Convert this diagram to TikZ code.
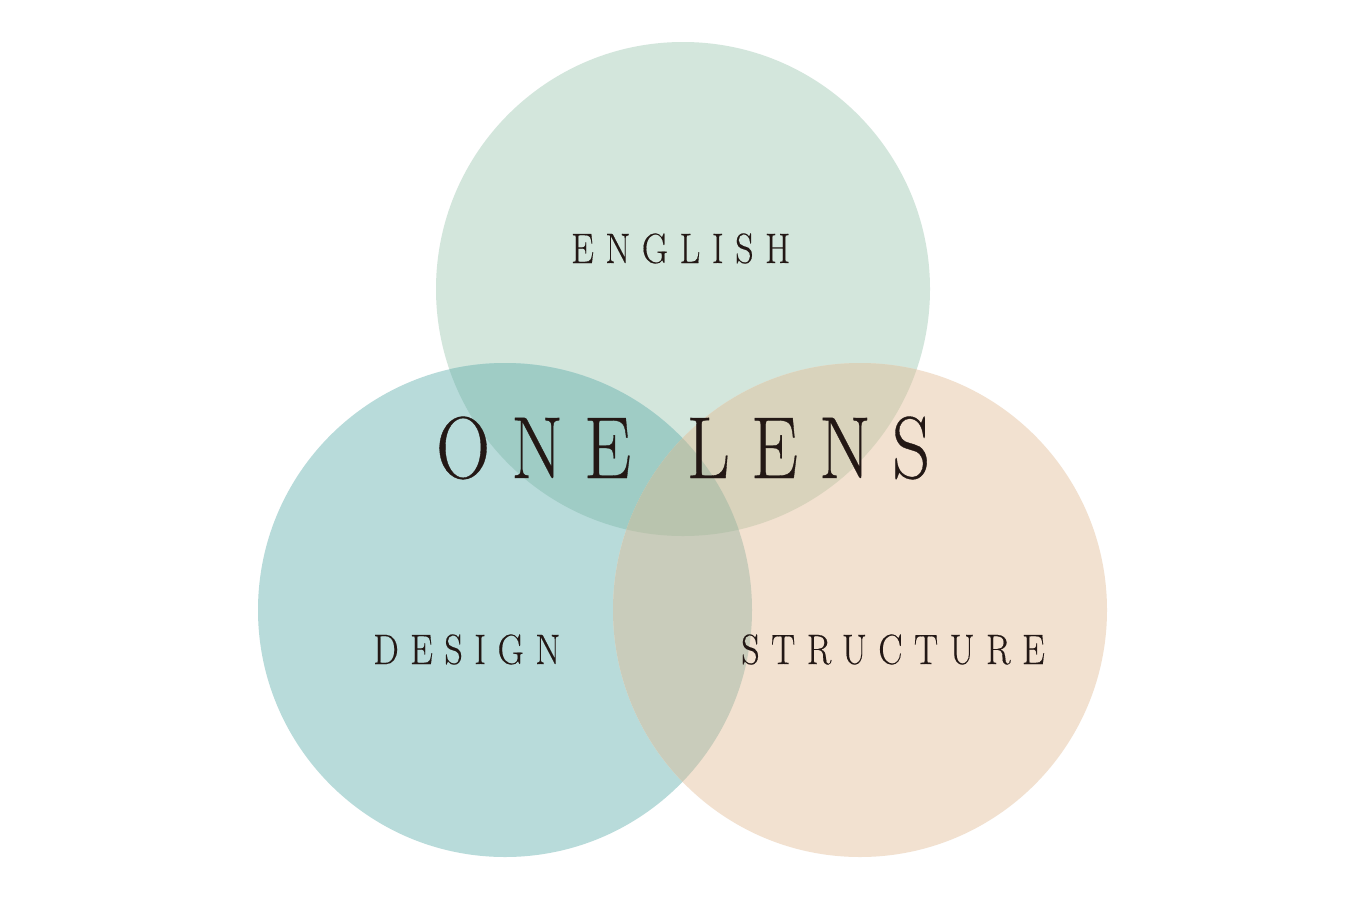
\documentclass[tikz,border=0pt]{standalone}
\usepackage{fontspec}
\newfontfamily\lensfont[FakeStretch=0.85,LetterSpace=24,FakeBold=0.4]{Latin Modern Roman}
\newfontfamily\labelfont[FakeStretch=0.85,LetterSpace=27,FakeBold=0.3]{Latin Modern Roman}
\definecolor{cTop}{HTML}{D3E6DC}
\definecolor{cLeft}{HTML}{B8DBDA}
\definecolor{cRight}{HTML}{F2E1D0}
\definecolor{cTL}{HTML}{9FCCC5}
\definecolor{cTR}{HTML}{D9D3BC}
\definecolor{cLR}{HTML}{C9CCBB}
\definecolor{cAll}{HTML}{B9C4AE}
\definecolor{ink}{HTML}{231815}
\tikzset{
  lbl/.style={text=ink, inner sep=0pt, anchor=base west, font=\labelfont\fontsize{42.5}{50}\selectfont},
  big/.style={text=ink, inner sep=0pt, anchor=base west, font=\lensfont\fontsize{88}{100}\selectfont}
}
\begin{document}
\begin{tikzpicture}[x=1pt,y=-1pt]
\useasboundingbox (0,0) rectangle (1366,900);
\fill[white] (0,0) rectangle (1366,900);
\def\rr{247}
\coordinate (T) at (683,289);
\coordinate (L) at (505,610);
\coordinate (R) at (860,610);
% base circles
\fill[cTop] (T) circle (\rr);
\fill[cLeft] (L) circle (\rr);
\fill[cRight] (R) circle (\rr);
% pairwise overlaps
\begin{scope}
  \clip (T) circle (\rr);
  \fill[cTL] (L) circle (\rr);
  \fill[cTR] (R) circle (\rr);
\end{scope}
\begin{scope}
  \clip (L) circle (\rr);
  \fill[cLR] (R) circle (\rr);
\end{scope}
\begin{scope}
  \clip (T) circle (\rr);
  \clip (L) circle (\rr);
  \fill[cAll] (R) circle (\rr);
\end{scope}
% labels
\node[lbl] (english) at (571,263) {ENGLISH};
\node[lbl] (design) at (373,664) {DESIGN};
\node[lbl] (structure) at (741,664) {STRUCTURE};
\node[big] (onelens) at (436,478) {ONE \hspace{12pt}LENS};
\end{tikzpicture}
\end{document}
